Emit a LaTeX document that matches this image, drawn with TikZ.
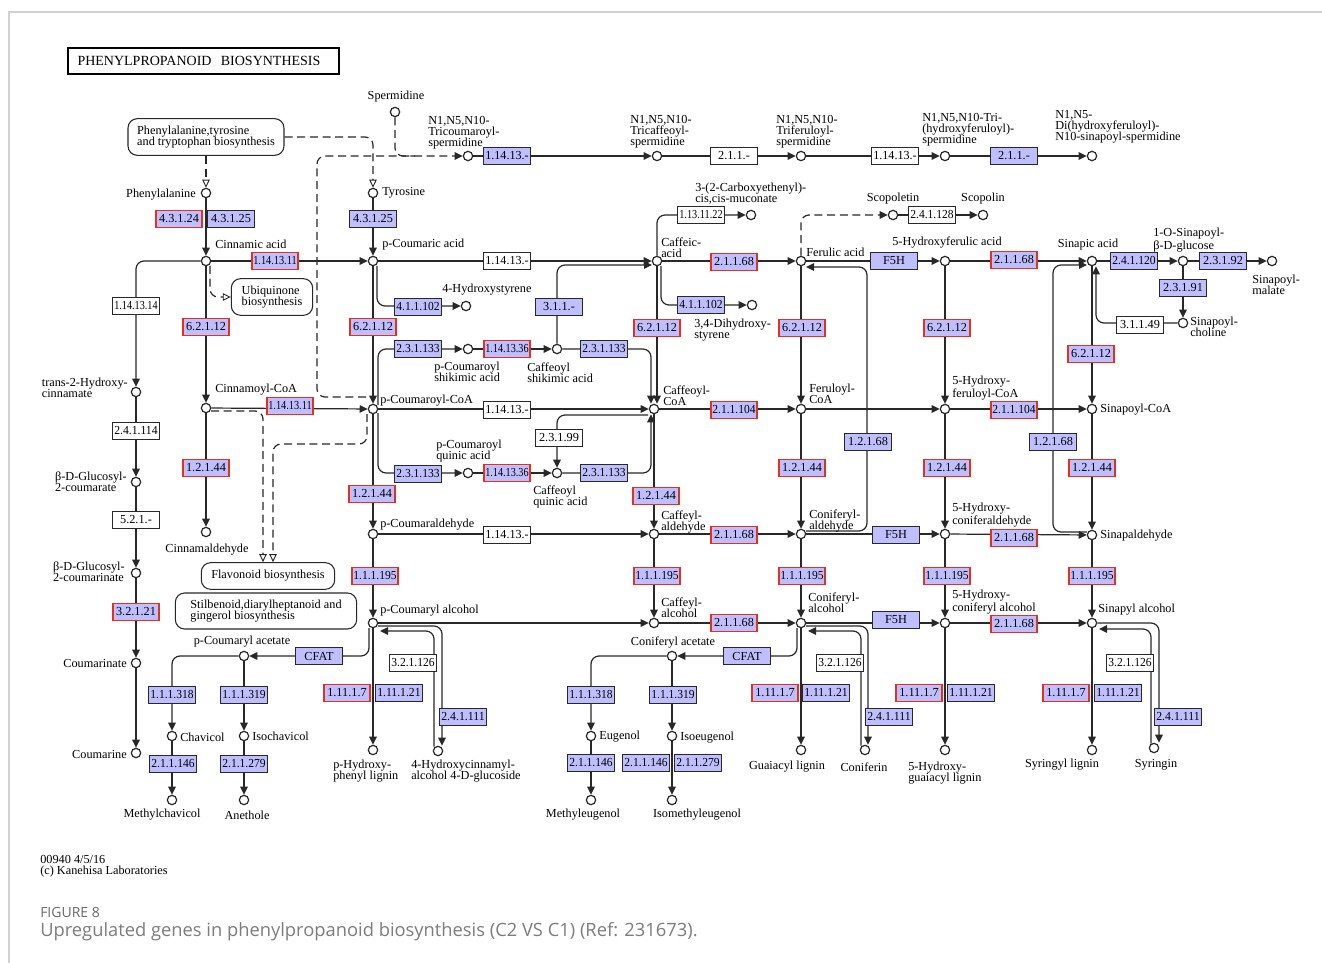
\documentclass[tikz,border=0pt]{standalone}
\usepackage{fontspec}
\usepackage{graphicx}
\setmainfont{Liberation Serif}
\newfontfamily\capfont{Open Sans}
\usetikzlibrary{arrows.meta,calc}
\definecolor{ezblue}{RGB}{191,191,255}
\definecolor{ezred}{RGB}{228,48,28}
\definecolor{lncol}{RGB}{40,40,40}
\definecolor{capgray}{RGB}{125,125,125}
\definecolor{figgray}{RGB}{105,105,105}
\definecolor{framegray}{RGB}{210,210,210}
\newsavebox\ecsbox
\newcommand{\ec}[1]{\sbox\ecsbox{#1}\ifdim\wd\ecsbox>32.5pt\resizebox{32.5pt}{\height}{\usebox\ecsbox}\else\usebox\ecsbox\fi}
\newcommand\lbf{\fontsize{9.2}{8.4}\selectfont}
\newcommand\ecf{\fontsize{9.2}{10}\selectfont}
\pgfdeclarelayer{bg}
\pgfsetlayers{bg,main}
\tikzset{
 cp/.style={circle,draw=lncol,fill=white,line width=0.9pt,minimum size=7pt,inner sep=0pt},
 ez/.style={rectangle,draw=lncol,line width=0.7pt,fill=ezblue,minimum width=35pt,minimum height=12.8pt,inner sep=0pt,font=\ecf},
 ezr/.style={ez,draw=ezred,line width=1.4pt},
 ezw/.style={ez,fill=white},
 lb/.style={inner sep=0pt,font=\lbf,align=left},
 mapbox/.style={draw=lncol,rounded corners=7pt,line width=0.8pt,font=\lbf,align=left,inner sep=0pt},
 ln/.style={draw=lncol,line width=0.9pt},
 rx/.style={ln,-{Triangle[length=6pt,width=5.6pt]}},
 dsh/.style={ln,dash pattern=on 6pt off 3.5pt},
 drx/.style={dsh,-{Triangle[length=6pt,width=5.6pt]}},
 dox/.style={dsh,-{Triangle[open,length=6pt,width=5.6pt,line width=0.7pt]}},
}
\begin{document}
\begin{tikzpicture}[x=0.75pt,y=-0.75pt]
\useasboundingbox (0,0) rectangle (1322,963);

% title and map links
\node[draw=black,line width=1.3pt,text width=189pt,align=left,inner xsep=7pt,minimum height=19.5pt,inner ysep=0pt,font=\fontsize{10.5}{12}\selectfont] (ttl) at (203.5,61) {PHENYLPROPANOID\ \ BIOSYNTHESIS};
\node[mapbox,minimum width=117pt,minimum height=27.5pt] (mphe) at (206,137) {Phenylalanine,tyrosine\\and tryptophan biosynthesis};
\node[mapbox,minimum width=61pt,minimum height=27.5pt] (mubq) at (272,297) {Ubiquinone\\biosynthesis};
\node[mapbox,minimum width=100pt,minimum height=20pt] (mflv) at (268,576) {Flavonoid biosynthesis};
\node[mapbox,minimum width=136pt,minimum height=27pt] (mstb) at (266,611) {Stilbenoid,diarylheptanoid and\\gingerol biosynthesis};

% compounds
\foreach \n/\x/\y in {
spd/395/112, phe/206/193, tyr/373/193, cin/206/261, pca/373/261, hst/466/306,
tcs/468/156, tcf/657/156, tfs/801/156, ths/945/156, dhs/1092/156,
cem/751/215, caf/657/261, dhst/752/305, scp/893/215, scl/983/215,
fer/801/261, hfa/945/261, sna/1092/261, sng/1183/261, snm/1272/261, snch/1183/323,
thc/136/392, cco/206/408, pcc/373/409, pcs/468/349, cfs/557/349, cfc/654/409,
frc/801/409, hfc/945/409, spc/1092/409, gca/136/482, pcq/468/473, cfq/557/473,
cnd/206/532, pcd/373/534, cfd/654/534, cnfd/801/534, hcd/945/534, sald/1092/535,
gcn/136/573, pcl/373/623, cfl/654/623, cnl/801/623, hcl/945/623, sal/1092/623,
pcac/244/656, cnac/672/656, cmt/136/663, chv/172/736, ichv/244/736, cmr/136/753,
mch/172/800, ane/244/800, phl/373/750, hcg/438/751, eug/591/736, ieug/672/736,
meug/591/800, imeug/672/800, gul/801/750, cnf/865/750, hgl/945/750, syl/1092/750, syr/1154/748}
\node[cp] (\n) at (\x,\y) {};

% enzymes: highlighted (red border)
\foreach \n/\x/\y/\tx in {
e01/179/219/4.3.1.24, e04/275/261/1.14.13.11, e06/206/327/6.2.1.12, e07/373/327/6.2.1.12,
e12/734/262/2.1.1.68, e14/657/328/6.2.1.12, e15/802/328/6.2.1.12, e17/1014/260/2.1.1.68,
e18/947/328/6.2.1.12, e23/1091/354/6.2.1.12, e30/507/349/1.14.13.36, e32/290/406/1.14.13.11,
e34/734/410/2.1.1.104, e35/1014/410/2.1.1.104, e39/507/473/1.14.13.36, e41/206/468/1.2.1.44,
e42/372/494/1.2.1.44, e43/656/496/1.2.1.44, e44/802/468/1.2.1.44, e46/947/468/1.2.1.44,
e48/1092/468/1.2.1.44, e51/734/535/2.1.1.68, e53/1014/538/2.1.1.68, e54/136/612/3.2.1.21,
e55/375/576/1.1.1.195, e56/657/576/1.1.1.195, e57/802/576/1.1.1.195, e58/947/576/1.1.1.195,
e59/1092/576/1.1.1.195, e60/734/623/2.1.1.68, e62/1014/624/2.1.1.68, e70/347/693/1.11.1.7,
e75/775/693/1.11.1.7, e78/919/693/1.11.1.7, e80/1066/693/1.11.1.7}
\node[ezr] (\n) at (\x,\y) {\ec{\tx}};
% enzymes: blue
\foreach \n/\x/\y/\tx in {
e02/231/219/4.3.1.25, e03/373/219/4.3.1.25, e08/418/307/4.1.1.102, e10/559/307/3.1.1.-,
e13/701/305/4.1.1.102, e16/894/261/F5H, e19/1134/261/2.4.1.120, e20/1223/261/2.3.1.92,
e21/1183/288/2.3.1.91, e25/507/156/1.14.13.-, e28/1014/156/2.1.1.-, e29/418/349/2.3.1.133,
e31/604/349/2.3.1.133, e38/418/474/2.3.1.133, e40/604/473/2.3.1.133, e45/868/442/1.2.1.68,
e47/1053/442/1.2.1.68, e52/896/535/F5H, e61/896/620/F5H, e63/319/656/CFAT, e64/747/656/CFAT,
e68/172/695/1.1.1.318, e69/244/695/1.1.1.319, e71/399/693/1.11.1.21, e72/463/717/2.4.1.111,
e73/591/695/1.1.1.318, e74/673/695/1.1.1.319, e76/826/693/1.11.1.21, e77/889/717/2.4.1.111,
e79/971/693/1.11.1.21, e81/1118/693/1.11.1.21, e82/1178/717/2.4.1.111, e83/173/764/2.1.1.146,
e84/244/764/2.1.1.279, e85/591/763/2.1.1.146, e86/646/763/2.1.1.146, e87/698/763/2.1.1.279}
\node[ez] (\n) at (\x,\y) {\ec{\tx}};
% enzymes: white
\foreach \n/\x/\y/\tx in {
e05/136/306/1.14.13.14, e09/507/261/1.14.13.-, e11/701/215/1.13.11.22, e22/1140/325/3.1.1.49,
e24/932/215/2.4.1.128, e26/734/156/2.1.1.-, e27/895/156/1.14.13.-, e33/507/410/1.14.13.-,
e36/136/431/2.4.1.114, e37/559/438/2.3.1.99, e49/136/520/5.2.1.-, e50/507/535/1.14.13.-,
e65/413/663/3.2.1.126, e66/840/663/3.2.1.126, e67/1130/663/3.2.1.126}
\node[ezw] (\n) at (\x,\y) {\ec{\tx}};

% labels
\node[lb] (lspd) at (396,97) {Spermidine};
\node[lb,anchor=west] (ltcs) at (428,133) {N1,N5,N10-\\Tricoumaroyl-\\spermidine};
\node[lb,anchor=west] (ltcf) at (630,132) {N1,N5,N10-\\Tricaffeoyl-\\spermidine};
\node[lb,anchor=west] (ltfs) at (776,132) {N1,N5,N10-\\Triferuloyl-\\spermidine};
\node[lb,anchor=west] (lths) at (922,130) {N1,N5,N10-Tri-\\(hydroxyferuloyl)-\\spermidine};
\node[lb,anchor=west] (ldhs) at (1055,127) {N1,N5-\\Di(hydroxyferuloyl)-\\N10-sinapoyl-spermidine};
\node[lb,anchor=east] (lphe) at (196,195) {Phenylalanine};
\node[lb,anchor=west] (ltyr) at (382,193) {Tyrosine};
\node[lb,anchor=west] (lcin) at (215,244) {Cinnamic acid};
\node[lb,anchor=west] (lpca) at (382,245) {p-Coumaric acid};
\node[lb,anchor=west] (lhst) at (442,290) {4-Hydroxystyrene};
\node[lb,anchor=west] (lcem) at (695,194) {3-(2-Carboxyethenyl)-\\cis,cis-muconate};
\node[lb,anchor=west] (lcaf) at (661,248) {Caffeic-\\acid};
\node[lb,anchor=west] (ldhst) at (694,330) {3,4-Dihydroxy-\\styrene};
\node[lb] (lscp) at (893,199) {Scopoletin};
\node[lb] (lscl) at (983,199) {Scopolin};
\node[lb,anchor=west] (lfer) at (806,252) {Ferulic acid};
\node[lb] (lhfa) at (947,243) {5-Hydroxyferulic acid};
\node[lb] (lsna) at (1088,245) {Sinapic acid};
\node[lb,anchor=west] (lsng) at (1153,240) {1-O-Sinapoyl-\\β-D-glucose};
\node[lb,anchor=west] (lsnm) at (1252,285) {Sinapoyl-\\malate};
\node[lb,anchor=west] (lsnch) at (1190,327) {Sinapoyl-\\choline};
\node[lb,anchor=east] (lthc) at (128,388) {trans-2-Hydroxy-\\cinnamate};
\node[lb,anchor=west] (lcco) at (215,390) {Cinnamoyl-CoA};
\node[lb,anchor=west] (lpcc) at (380,401) {p-Coumaroyl-CoA};
\node[lb,anchor=west] (lpcs) at (434,372) {p-Coumaroyl\\shikimic acid};
\node[lb,anchor=west] (lcfs) at (527,373) {Caffeoyl\\shikimic acid};
\node[lb,anchor=west] (lcfc) at (663,396) {Caffeoyl-\\CoA};
\node[lb,anchor=west] (lfrc) at (809,394) {Feruloyl-\\CoA};
\node[lb,anchor=west] (lhfc) at (952,388) {5-Hydroxy-\\feruloyl-CoA};
\node[lb,anchor=west] (lspc) at (1100,410) {Sinapoyl-CoA};
\node[lb,anchor=east] (lgca) at (127,482) {β-D-Glucosyl-\\2-coumarate};
\node[lb,anchor=west] (lpcq) at (436,451) {p-Coumaroyl\\quinic acid};
\node[lb,anchor=west] (lcfq) at (533,497) {Caffeoyl\\quinic acid};
\node[lb] (lcnd) at (207,550) {Cinnamaldehyde};
\node[lb,anchor=west] (lpcd) at (380,525) {p-Coumaraldehyde};
\node[lb,anchor=west] (lcfd) at (661,522) {Caffeyl-\\aldehyde};
\node[lb,anchor=west] (lcnfd) at (809,521) {Coniferyl-\\aldehyde};
\node[lb,anchor=west] (lhcd) at (952,515) {5-Hydroxy-\\coniferaldehyde};
\node[lb,anchor=west] (lsald) at (1100,536) {Sinapaldehyde};
\node[lb,anchor=east] (lgcn) at (125,572) {β-D-Glucosyl-\\2-coumarinate};
\node[lb,anchor=west] (lpcl) at (380,611) {p-Coumaryl alcohol};
\node[lb,anchor=west] (lcfl) at (661,608) {Caffeyl-\\alcohol};
\node[lb,anchor=west] (lcnl) at (808,603) {Coniferyl-\\alcohol};
\node[lb,anchor=west] (lhcl) at (952,602) {5-Hydroxy-\\coniferyl alcohol};
\node[lb,anchor=west] (lsal) at (1098,610) {Sinapyl alcohol};
\node[lb] (lpcac) at (242,642) {p-Coumaryl acetate};
\node[lb] (lcnac) at (673,643) {Coniferyl acetate};
\node[lb,anchor=east] (lcmt) at (127,663) {Coumarinate};
\node[lb,anchor=west] (lchv) at (180,737) {Chavicol};
\node[lb,anchor=west] (lichv) at (252,736) {Isochavicol};
\node[lb,anchor=east] (lcmr) at (127,754) {Coumarine};
\node[lb] (lmch) at (162,815) {Methylchavicol};
\node[lb] (lane) at (247,815) {Anethole};
\node[lb,anchor=west] (lphl) at (333,771) {p-Hydroxy-\\phenyl lignin};
\node[lb,anchor=west] (lhcg) at (411,771) {4-Hydroxycinnamyl-\\alcohol 4-D-glucoside};
\node[lb,anchor=west] (leug) at (599,737) {Eugenol};
\node[lb,anchor=west] (lieug) at (680,738) {Isoeugenol};
\node[lb] (lmeug) at (583,815) {Methyleugenol};
\node[lb] (limeug) at (697,815) {Isomethyleugenol};
\node[lb] (lgul) at (787,767) {Guaiacyl lignin};
\node[lb] (lcnf) at (864,767) {Coniferin};
\node[lb,anchor=west] (lhgl) at (908,773) {5-Hydroxy-\\guaiacyl lignin};
\node[lb] (lsyl) at (1062,765) {Syringyl lignin};
\node[lb] (lsyr) at (1156,765) {Syringin};

% footer and caption
\node[lb,anchor=west,font=\fontsize{9.2}{9}\selectfont] (ft1) at (40,859) {00940 4/5/16};
\node[lb,anchor=west,font=\fontsize{9.2}{9}\selectfont] (ft2) at (40,872) {(c) Kanehisa Laboratories};
\node[anchor=west,inner sep=0pt,text=figgray,font=\capfont\fontsize{10.5}{12}\selectfont] (fig) at (40,912) {FIGURE 8};
\node[anchor=west,inner sep=0pt,text=capgray,font=\capfont\fontsize{13}{15}\selectfont] (cap) at (40,932) {\resizebox{493pt}{!}{Upregulated genes in phenylpropanoid biosynthesis (C2 VS C1) (Ref: 231673).}};

% connectors (and page background) on the lower layer
\begin{pgfonlayer}{bg}
\fill[white] (0,0) rectangle (1322,963);
\draw[framegray,line width=0.8pt] (1322,12) -- (9,12) -- (9,963);
\draw[dox] (mphe.south) -- (phe.north);
\draw[dox,rounded corners=6pt] (mphe.east) -- (mphe.east -| tyr) -- (tyr.north);
\draw[dsh,rounded corners=6pt] (spd.south) -- (spd |- tcs) -- ($(spd |- tcs)+(20,0)$);
\draw[drx,rounded corners=6pt] ($(pcc)+(-7,-12)$) -- (317,397) -- (317,156) -- (tcs);
\draw[dox,rounded corners=6pt] ($(cin)+(4,5)$) |- (mubq.west);
\draw[dox,rounded corners=6pt] ($(cco)+(5,3)$) -| ($(mflv.north)+(-5,0)$);
\draw[dox,rounded corners=6pt] ($(pcc)+(-6,5)$) -- (367,444) -- (273,444) -- ($(mflv.north)+(5,0)$);

\draw[rx] (phe) -- (cin);
\draw[rx] (tyr) -- (pca);
\draw[rx] (cin) -- (pca);
\draw[rx,rounded corners=6pt] (cin) -| (thc);
\draw[rx] (cin) -- (cco);
\draw[rx] (cco) -- (cnd);
\draw[rx] (cco) -- (pcc);
\draw[rx] (pca) -- (caf);
\draw[rx,rounded corners=6pt] ($(pca)+(4,5)$) |- (hst);
\draw[rx] (pca) -- (pcc);
\draw[rx,rounded corners=6pt] ($(pcc)+(5,-4)$) |- (pcs);
\draw[rx] (pcs) -- (cfs);
\draw[rx,rounded corners=6pt] (cfs) -| ($(cfc.north)+(-3,0)$);
\draw[rx] (caf) -- ($(cfc.north)+(3,0)$);
\draw[rx,rounded corners=6pt] (cfs) |- ($(caf)+(-5,4)$);
\draw[rx,rounded corners=6pt] (caf) |- (cem);
\draw[rx,rounded corners=6pt] ($(caf)+(4,5)$) |- (dhst);
\draw[rx] (caf) -- (fer);
\draw[rx] (pcc) -- (cfc);
\draw[rx,rounded corners=6pt] ($(pcc)+(5,4)$) |- (pcq);
\draw[rx] (pcq) -- (cfq);
\draw[rx,rounded corners=6pt] (cfq) -| ($(cfc.south)+(-3,0)$);
\draw[rx,rounded corners=6pt] ($(cfc)+(-6,6)$) -| (cfq.north);
\draw[rx] (cfc) -- (frc);
\draw[rx] (cfc) -- (cfd);
\draw[rx] (pcc) -- (pcd);
\draw[rx] (pcd) -- (cfd);
\draw[rx] (cfd) -- (cnfd);
\draw[rx] (cfd) -- (cfl);
\draw[rx] (pcd) -- (pcl);
\draw[rx] (pcl) -- (cfl);
\draw[rx] (cfl) -- (cnl);
\draw[rx] (pcl) -- (phl);
\draw[rx,rounded corners=6pt] ($(pcl)+(-4,5)$) |- (pcac);
\draw[rx,rounded corners=6pt] ($(pcl)+(5,3)$) -| ($(hcg.north)+(4,0)$);
\draw[rx,rounded corners=6pt] ($(hcg.north)+(-4,1)$) |- ($(pcl)+(7,8)$);
\draw[rx,rounded corners=6pt] (pcac) -| (chv);
\draw[rx] (pcac) -- (ichv);
\draw[rx] (chv) -- (mch);
\draw[rx] (ichv) -- (ane);
\draw[rx,rounded corners=6pt] ($(cnl)+(-4,5)$) |- (cnac);
\draw[rx,rounded corners=6pt] (cnac) -| (eug);
\draw[rx] (cnac) -- (ieug);
\draw[rx] (eug) -- (meug);
\draw[rx] (ieug) -- (imeug);
\draw[rx] (cnl) -- (gul);
\draw[rx,rounded corners=6pt] ($(cnl)+(5,3)$) -| ($(cnf.north)+(3,0)$);
\draw[rx,rounded corners=6pt] ($(cnf.north)+(-4,1)$) |- ($(cnl)+(7,8)$);
\draw[rx] (cnl) -- (hcl);
\draw[rx] (hcl) -- (sal);
\draw[rx] (hcl) -- (hgl);
\draw[rx] (sal) -- (syl);
\draw[rx,rounded corners=6pt] (sal) -| ($(syr.north)+(5,0)$);
\draw[rx,rounded corners=6pt] ($(syr.north)+(-3,1)$) |- ($(sal)+(7,6)$);
\draw[rx] (cnfd) -- (cnl);
\draw[rx] (cnfd) -- (hcd);
\draw[rx] (hcd) -- (sald);
\draw[rx,rounded corners=6pt] ($(sald)+(-5,-3)$) -- (1053,532) -- (1053,265) -- ($(sna)+(-5,4)$);
\draw[rx,rounded corners=6pt] ($(cnfd)+(5,-3)$) -- (867,531) -- (867,267) -- ($(fer)+(5,6)$);
\draw[drx,rounded corners=6pt] (fer) |- (scp);
\draw[rx] (scp) -- (scl);
\draw[rx] (fer) -- (hfa);
\draw[rx] (fer) -- (frc);
\draw[rx] (frc) -- (cnfd);
\draw[rx] (frc) -- (hfc);
\draw[rx] (hfa) -- (hfc);
\draw[rx] (hfc) -- (hcd);
\draw[rx] (hcd) -- (hcl);
\draw[rx] (hfa) -- (sna);
\draw[rx] (sna) -- (spc);
\draw[rx,rounded corners=6pt] (snch) -| ($(sna.south)+(4,0)$);
\draw[rx] (sna) -- (sng);
\draw[rx] (sng) -- (snm);
\draw[rx] (sng) -- (snch);
\draw[rx] (hfc) -- (spc);
\draw[rx] (spc) -- (sald);
\draw[rx] (sald) -- (sal);
\draw[rx] (tcs) -- (tcf);
\draw[rx] (tcf) -- (tfs);
\draw[rx] (tfs) -- (ths);
\draw[rx] (ths) -- (dhs);
\draw[rx] (thc) -- (gca);
\draw[rx] (gca) -- (gcn);
\draw[rx] (gcn) -- (cmt);
\draw[rx] (cmt) -- (cmr);
\end{pgfonlayer}
\end{tikzpicture}
\end{document}
